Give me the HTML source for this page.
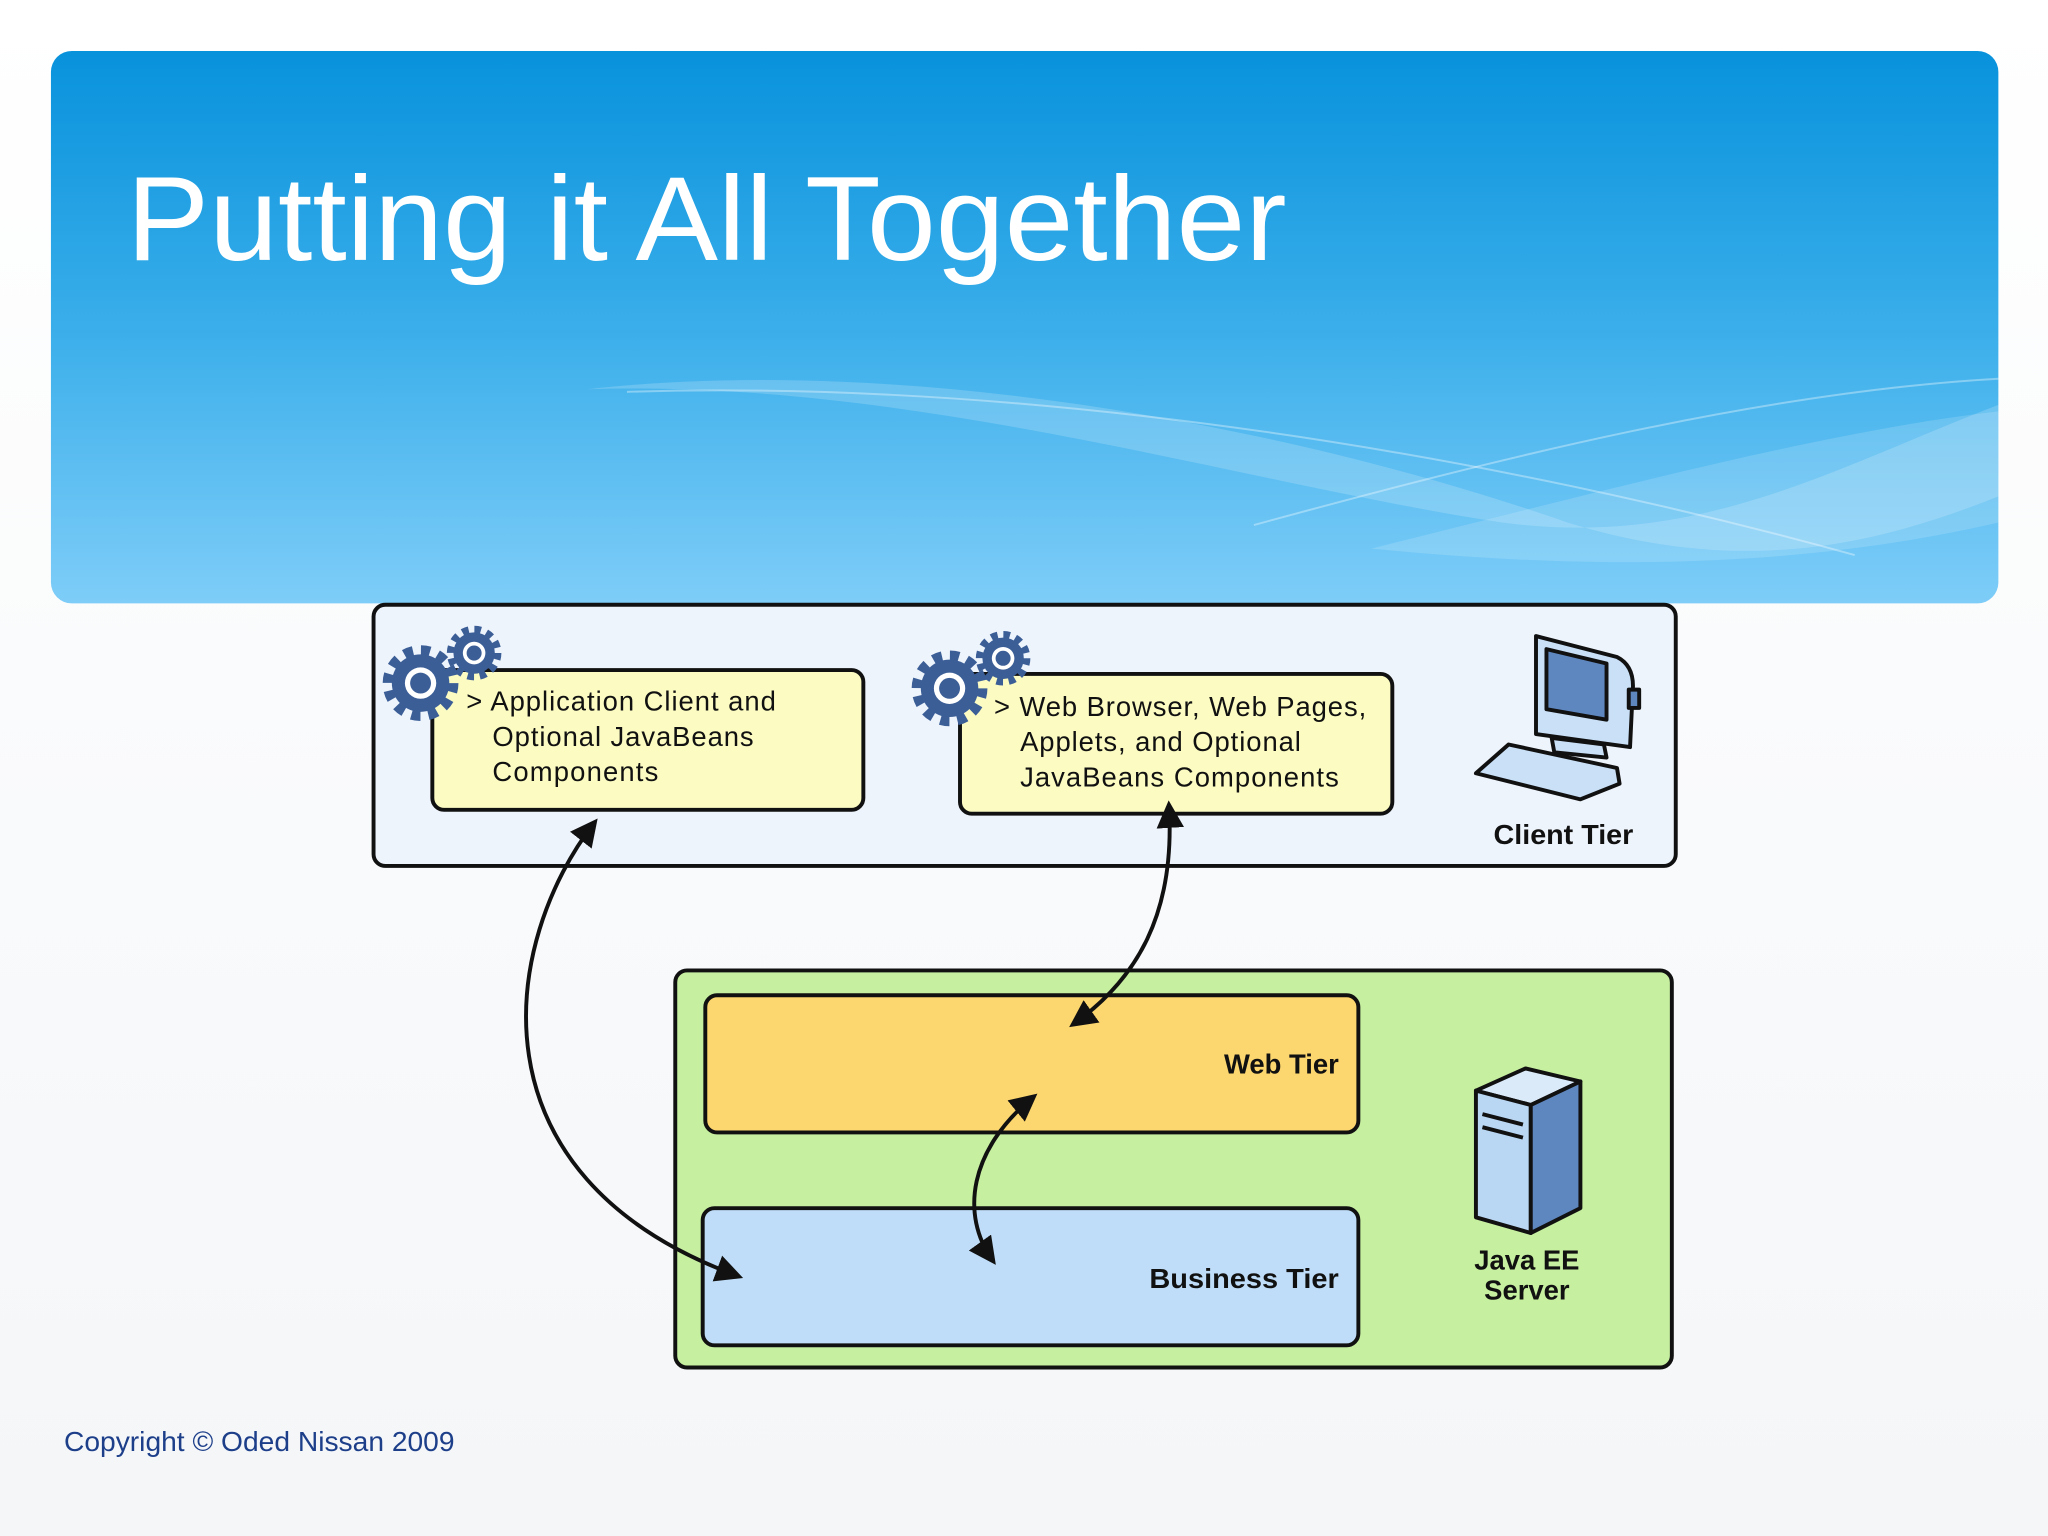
<!DOCTYPE html>
<html><head><meta charset="utf-8"><style>
html,body{margin:0;padding:0;background:#fff;}
svg{display:block;}
</style></head><body>
<svg width="2048" height="1536" viewBox="0 0 1568 1176" xmlns="http://www.w3.org/2000/svg" font-family="Liberation Sans, Arial, sans-serif">
<defs>
<linearGradient id="hg" x1="0" y1="0" x2="0" y2="1">
<stop offset="0" stop-color="#0892dc"/><stop offset="0.5" stop-color="#3aaeea"/><stop offset="1" stop-color="#7ecdf8"/>
</linearGradient>
<linearGradient id="bg2" x1="0" y1="0" x2="0" y2="1">
<stop offset="0" stop-color="#ffffff"/><stop offset="1" stop-color="#f4f6f8"/>
</linearGradient>
<marker id="ah" viewBox="0 0 10 10" refX="8" refY="5" markerWidth="7" markerHeight="7" orient="auto-start-reverse">
<path d="M0,0 L10,5 L0,10 z" fill="#111"/>
</marker>
<g id="gear">
<circle r="22" fill="#3b5e97"/>
<circle r="25" fill="none" stroke="#3b5e97" stroke-width="8" stroke-dasharray="7 6.1"/>
<circle r="12" fill="#fff"/>
<circle r="8" fill="#3b5e97"/>
</g>
</defs>
<rect width="1568" height="1176" fill="url(#bg2)"/>
<rect x="39" y="39" width="1491" height="423" rx="16" fill="url(#hg)"/>
<path d="M450,298 C700,270 1000,330 1200,400 C1330,440 1430,420 1530,380 L1530,310 C1400,360 1300,420 1150,400 C950,370 700,290 450,298z" fill="#ffffff" opacity="0.18"/>
<path d="M480,300 C800,290 1150,350 1420,425" fill="none" stroke="#fff" stroke-opacity="0.35" stroke-width="1.5"/>
<path d="M960,402 C1150,350 1350,300 1530,290" fill="none" stroke="#fff" stroke-opacity="0.35" stroke-width="1.5"/>
<path d="M1050,420 C1250,370 1400,330 1530,315 L1530,400 C1400,430 1250,440 1050,420z" fill="#fff" opacity="0.15"/>
<text x="97" y="199" font-size="92" fill="#fff" textLength="888" lengthAdjust="spacingAndGlyphs">Putting it All Together</text>

<rect x="286" y="463" width="997" height="200" rx="9" fill="#eef4fc" stroke="#111" stroke-width="3"/>
<rect x="331" y="513" width="330" height="107" rx="9" fill="#fbfbc2" stroke="#111" stroke-width="3"/>
<rect x="735" y="516" width="331" height="107" rx="9" fill="#fbfbc2" stroke="#111" stroke-width="3"/>
<use href="#gear" transform="translate(363,500) scale(0.72)"/>
<use href="#gear" transform="translate(322,523)"/>
<use href="#gear" transform="translate(768,504) scale(0.72)"/>
<use href="#gear" transform="translate(727,527)"/>
<g font-size="21" fill="#111" lengthAdjust="spacingAndGlyphs">
<text x="357" y="544" textLength="237">&gt; Application Client and</text>
<text x="377" y="571" textLength="200">Optional JavaBeans</text>
<text x="377" y="598" textLength="127">Components</text>
<text x="761" y="548" textLength="285">&gt; Web Browser, Web Pages,</text>
<text x="781" y="575" textLength="215">Applets, and Optional</text>
<text x="781" y="602" textLength="244">JavaBeans Components</text>
</g>
<!-- computer -->
<g stroke="#111" stroke-width="3" stroke-linejoin="round">
<path d="M1176,487 L1238,503 Q1252,510 1250,530 L1248,572 L1176,562 z" fill="#c9e0f7"/>
<path d="M1184,497 L1230,508 L1230,551 L1184,543 z" fill="#5f87bf"/>
<path d="M1188,565 L1228,570 L1230,580 L1190,576 z" fill="#c9e0f7"/>
<path d="M1130,592 L1155,570 L1238,588 L1240,600 L1210,612 z" fill="#c9e0f7"/>
<rect x="1247" y="528" width="8" height="14" fill="#5f87bf"/>
</g>
<text x="1197" y="646" font-size="21" font-weight="bold" text-anchor="middle" fill="#111" textLength="107" lengthAdjust="spacingAndGlyphs">Client Tier</text>

<rect x="517" y="743" width="763" height="304" rx="9" fill="#c6efa0" stroke="#111" stroke-width="3"/>
<rect x="540" y="762" width="500" height="105" rx="9" fill="#fcd66e" stroke="#111" stroke-width="3"/>
<rect x="538" y="925" width="502" height="105" rx="9" fill="#bfddf8" stroke="#111" stroke-width="3"/>
<text x="1025" y="822" font-size="21" font-weight="bold" text-anchor="end" fill="#111">Web Tier</text>
<text x="1025" y="986" font-size="21" font-weight="bold" text-anchor="end" fill="#111" textLength="145" lengthAdjust="spacingAndGlyphs">Business Tier</text>
<!-- server -->
<g stroke="#111" stroke-width="3" stroke-linejoin="round">
<path d="M1130,835 L1168,818 L1210,828 L1172,846 z" fill="#dbeaf9"/>
<path d="M1130,835 L1172,846 L1172,944 L1130,932 z" fill="#b9d6f3"/>
<path d="M1172,846 L1210,828 L1210,925 L1172,944 z" fill="#5f87bf"/>
<path d="M1135,853 L1166,861 M1135,863 L1166,871" stroke-width="3"/>
</g>
<text x="1169" y="972" font-size="21" font-weight="bold" text-anchor="middle" fill="#111">Java EE</text>
<text x="1169" y="995" font-size="21" font-weight="bold" text-anchor="middle" fill="#111">Server</text>

<g fill="none" stroke="#111" stroke-width="3">
<path d="M455,630 C385,720 355,900 565,977" marker-start="url(#ah)" marker-end="url(#ah)"/>
<path d="M895,617 C900,700 870,750 822,784" marker-start="url(#ah)" marker-end="url(#ah)"/>
<path d="M791,840 C742,880 735,930 760,965" marker-start="url(#ah)" marker-end="url(#ah)"/>
</g>
<text x="49" y="1111" font-size="21" fill="#1d3f8a" textLength="299" lengthAdjust="spacingAndGlyphs">Copyright © Oded Nissan 2009</text>
</svg>
</body></html>
